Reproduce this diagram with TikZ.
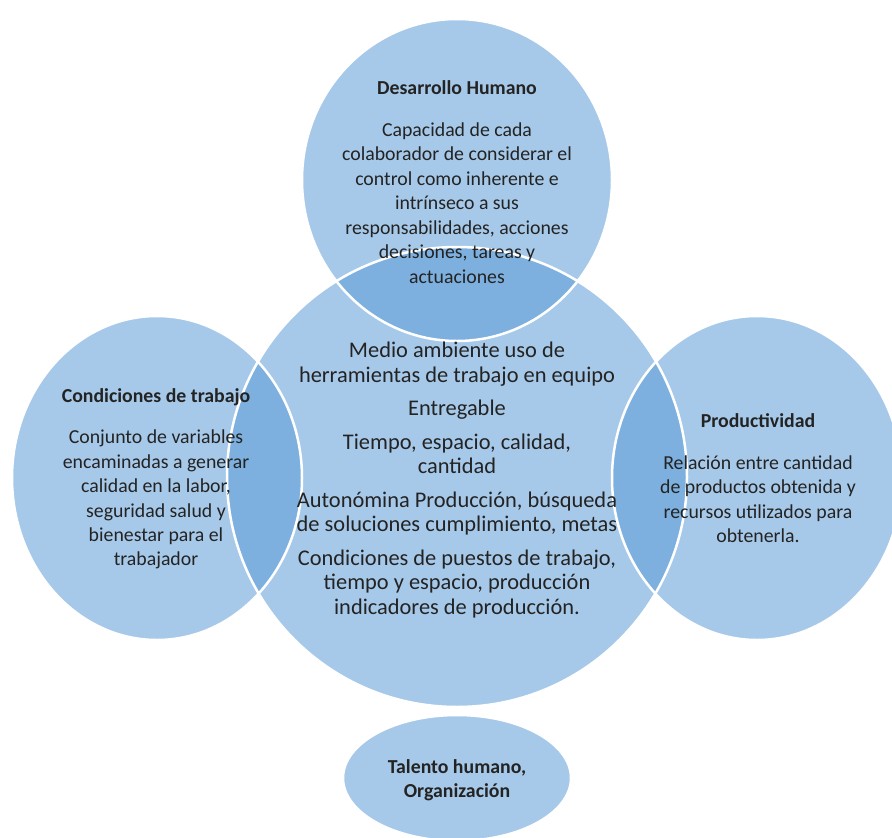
\documentclass[tikz,border=0pt]{standalone}
\usepackage{fontspec}
\setmainfont{Carlito}
\usetikzlibrary{positioning}

\definecolor{circfill}{RGB}{167,201,233}
\definecolor{lensfill}{RGB}{125,176,222}
\definecolor{txt}{RGB}{35,35,35}

\begin{document}
\begin{tikzpicture}[
	x=1pt,y=-1pt,
	bubble/.style={fill=circfill},
	lens/.style={fill=lensfill},
	rim/.style={draw=white, line width=2.5pt},
	title/.style={ % 每个圆的粗体标题
		font=\bfseries\fontsize{19.8}{24.5}\selectfont,
		text=txt, align=center, inner sep=0pt
	},
	body/.style={font=\fontsize{19.8}{24.5}\selectfont, text=txt, align=center, inner sep=0pt},
	core/.style={font=\fontsize{22.4}{24.5}\selectfont, text=txt, align=center, inner sep=0pt}
]
	\useasboundingbox (0,0) rectangle (892,838);
	%% 圆心
	\coordinate (dh) at (457,180);
	\coordinate (c)  at (457,477);
	\coordinate (ct) at (157,478);
	\coordinate (pr) at (757,478);
	\coordinate (th) at (457,778);
	% 填充各个圆
	\fill[bubble] (dh) ellipse [x radius=155pt, y radius=161pt];
	\fill[bubble] (c)  circle  [radius=230pt];
	\fill[bubble] (ct) ellipse [x radius=145pt, y radius=162pt];
	\fill[bubble] (pr) ellipse [x radius=145pt, y radius=162pt];
	\fill[bubble] (th) ellipse [x radius=114pt, y radius=63pt];
	% 交叠部分
	\begin{scope}
		\clip (c) circle [radius=230pt];
		\fill[lens] (dh) ellipse [x radius=155pt, y radius=161pt];
		\fill[lens] (ct) ellipse [x radius=145pt, y radius=162pt];
		\fill[lens] (pr) ellipse [x radius=145pt, y radius=162pt];
	\end{scope}
	% 白色边线
	\draw[rim] (dh) ellipse [x radius=155pt, y radius=161pt];
	\draw[rim] (c)  circle  [radius=230pt];
	\draw[rim] (ct) ellipse [x radius=145pt, y radius=162pt];
	\draw[rim] (pr) ellipse [x radius=145pt, y radius=162pt];
	\draw[rim] (th) ellipse [x radius=114pt, y radius=63pt];

	%% 文字
	\node[title, anchor=base] (dh1) at (457,94) {Desarrollo Humano};
	\node[body, below =28pt of dh1] (dh2) {Capacidad de cada\\
		colaborador de considerar el\\
		control como inherente e\\
		intrínseco a sus\\
		responsabilidades, acciones\\
		decisiones, tareas y\\
		actuaciones};

	\node[title, anchor=base] (ct1) at (156,402) {Condiciones de trabajo};
	\node[body, below =24pt of ct1] (ct2) {Conjunto de variables\\
		encaminadas a generar\\
		calidad en la labor,\\
		seguridad salud y\\
		bienestar para el\\
		trabajador};

	\node[title, anchor=base] (pr1) at (758,427) {Productividad};
	\node[body, below =28pt of pr1] (pr2) {Relación entre cantidad\\
		de productos obtenida y\\
		recursos utilizados para\\
		obtenerla.};

	\node[core] (c1) at (457,480) {Medio ambiente uso de\\
		herramientas de trabajo en equipo\\[9pt]
		Entregable\\[9pt]
		Tiempo, espacio, calidad,\\
		cantidad\\[9pt]
		Autonómina Producción, búsqueda\\
		de soluciones cumplimiento, metas\\[9pt]
		Condiciones de puestos de trabajo,\\
		tiempo y espacio, producción\\
		indicadores de producción.};

	\node[title] (th1) at (457,780) {Talento humano,\\ Organización};
\end{tikzpicture}
\end{document}
